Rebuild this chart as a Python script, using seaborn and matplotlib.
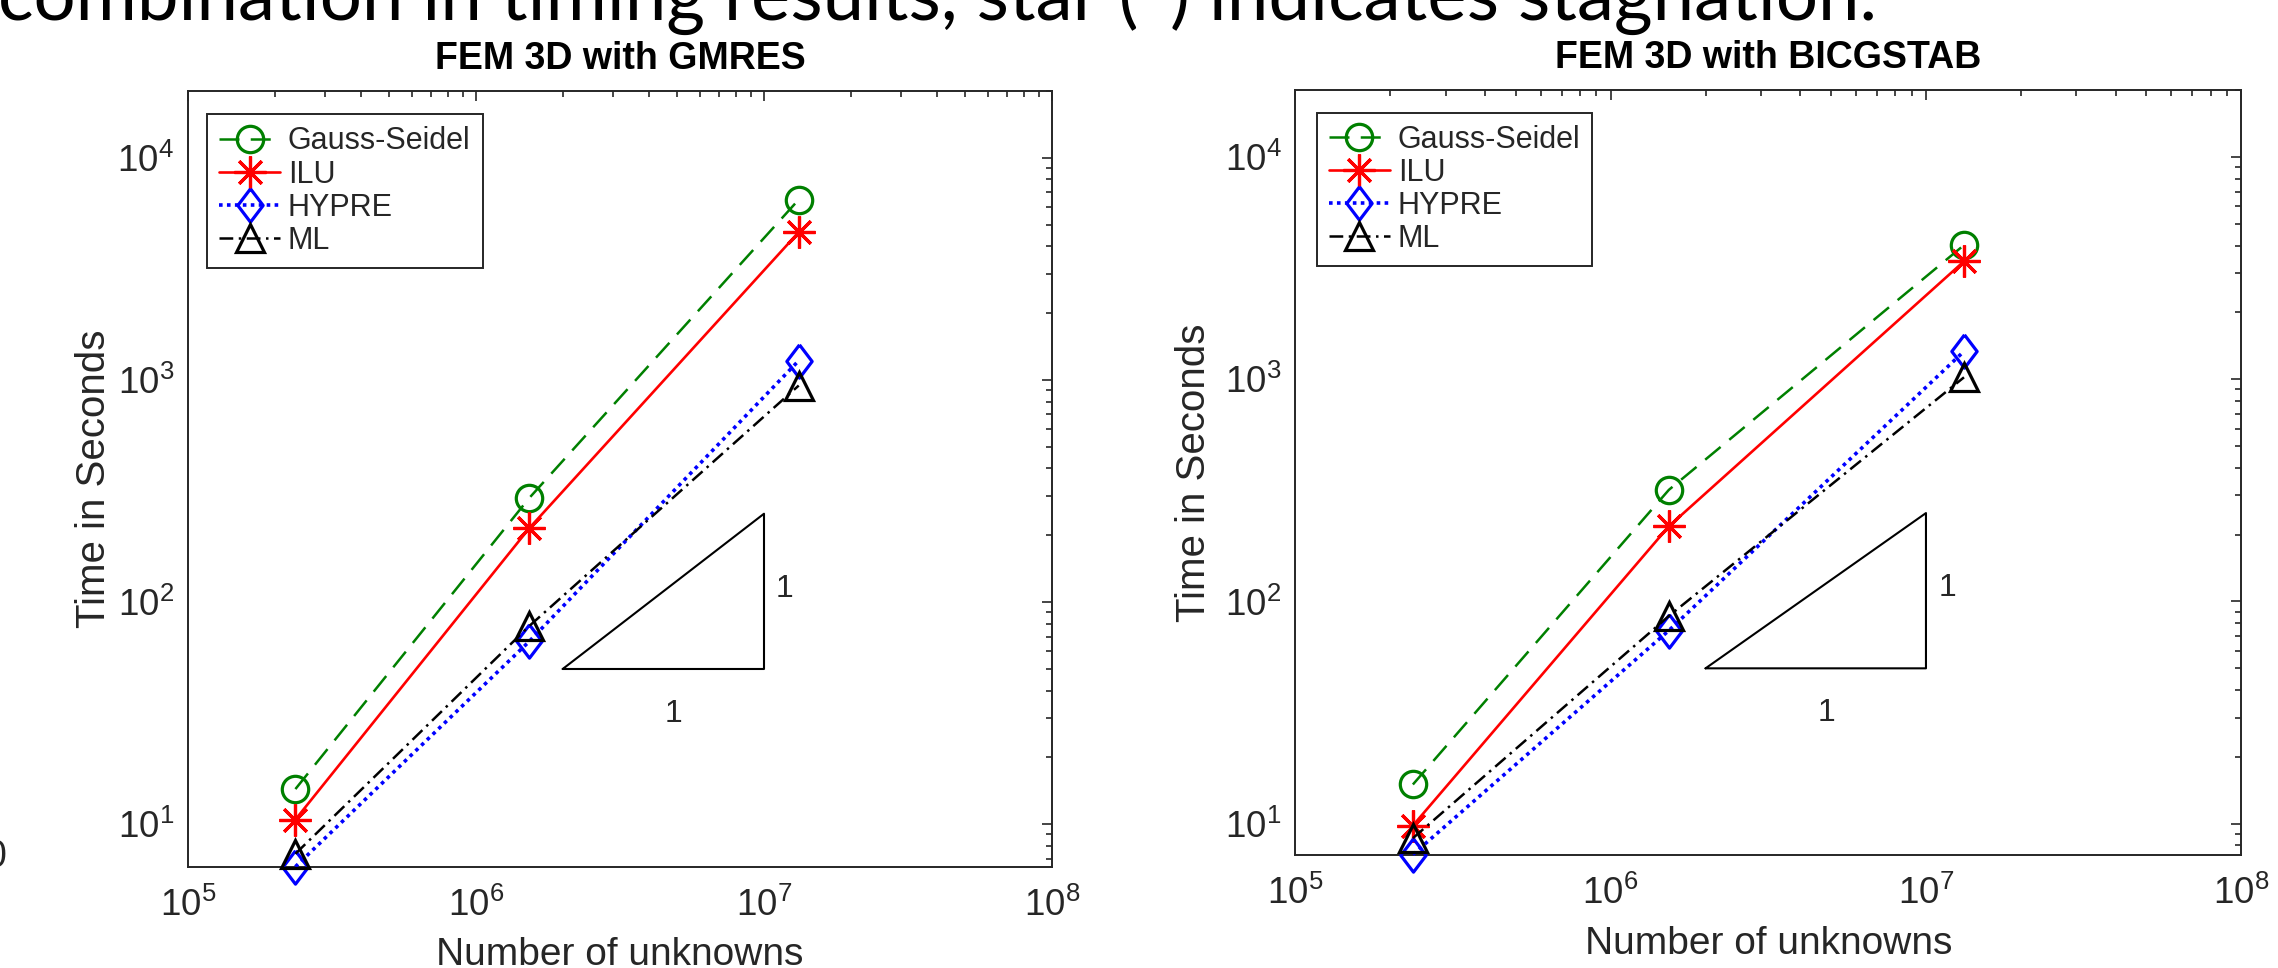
import matplotlib
matplotlib.use("Agg")
import matplotlib.pyplot as plt
from matplotlib import font_manager
from matplotlib.ticker import LogLocator, LogFormatterSciNotation, NullFormatter
import numpy as np
import pandas as pd
import seaborn as sns

# ---- data -------------------------------------------------------------
unknowns = [2.36e5, 1.53e6, 1.32e7]
methods = ["Gauss-Seidel", "ILU", "HYPRE", "ML"]

gmres_gauss_seidel = [14.4, 294, 6490]
gmres_ilu = [10.5, 215, 4630]
gmres_hypre = [6.44, 66.5, 1222]
gmres_ml = [7.36, 78, 944]

bicgstab_gauss_seidel = [15.0, 318, 4020]
bicgstab_ilu = [9.8, 218, 3398]
bicgstab_hypre = [7.26, 74, 1337]
bicgstab_ml = [8.6, 86, 1021]

# slope-1 reference triangle and its leg labels
slope_x = [2e6, 1e7, 1e7, 2e6]
slope_y = [50, 50, 250, 50]
slope_labels = ["1", "1"]

titles = ["FEM 3D with GMRES", "FEM 3D with BICGSTAB"]
x_label = "Number of unknowns"
y_label = "Time in Seconds"
x_limits = [1e5, 1e8]
y_top = 2.0e4
caption = "combination in timing results, star (*) indicates stagnation."

# ---- styling ----------------------------------------------------------
sns.set_style("white")
available = {f.name for f in font_manager.fontManager.ttflist}
main_font = "Liberation Sans" if "Liberation Sans" in available else "DejaVu Sans"
slide_font = "Lato" if "Lato" in available else main_font
plt.rcParams["font.family"] = [main_font, "DejaVu Sans"]
plt.rcParams["mathtext.default"] = "regular"

axis_gray = "#262626"
diamond = [(0, 1), (0.76, 0), (0, -1), (-0.76, 0), (0, 1)]
series_style = {
    "Gauss-Seidel": dict(color="#008000", marker="o", ms=19, ls=(0, (8, 4.5)), lw=1.8),
    "ILU": dict(color="#ff0000", marker=(8, 2, 0), ms=23, ls="-", lw=1.9),
    "HYPRE": dict(color="#0000ff", marker=diamond, ms=24, ls=(0, (1, 1.2)), lw=2.6),
    "ML": dict(color="#000000", marker="^", ms=20, ls=(0, (5.5, 2.2, 1, 2.2)), lw=1.8),
}

panels = [
    dict(values=[gmres_gauss_seidel, gmres_ilu, gmres_hypre, gmres_ml],
         rect=[188 / 2278, 1 - 866.7 / 968, 864 / 2278, 775.7 / 968],
         legend_anchor=(0.022, 0.970), ylabel_x=-0.087, xlabel_y=-0.090),
    dict(values=[bicgstab_gauss_seidel, bicgstab_ilu, bicgstab_hypre, bicgstab_ml],
         rect=[1295.3 / 2278, 1 - 854.5 / 968, 946 / 2278, 764.2 / 968],
         legend_anchor=(0.0226, 0.9707), ylabel_x=-0.087, xlabel_y=-0.093),
]

fig = plt.figure(figsize=(22.78, 9.68), dpi=100, facecolor="white")

for title, panel in zip(titles, panels):
    ax = fig.add_axes(panel["rect"])
    ax.set_xscale("log")
    ax.set_yscale("log")

    for name, vals in zip(methods, panel["values"]):
        st = series_style[name]
        df = pd.DataFrame({"unknowns": unknowns, "seconds": vals})
        sns.lineplot(data=df, x="unknowns", y="seconds", ax=ax, label=name,
                     color=st["color"], linestyle=st["ls"], linewidth=st["lw"],
                     marker=st["marker"], markersize=st["ms"],
                     markerfacecolor="none", markeredgecolor=st["color"],
                     markeredgewidth=2.3, clip_on=False, zorder=3)

    tri = pd.DataFrame({"x": slope_x, "y": slope_y})
    sns.lineplot(data=tri, x="x", y="y", ax=ax, sort=False, estimator=None,
                 color="black", linewidth=1.5, zorder=2)
    ax.text(1.1e7, 115, slope_labels[0], fontsize=23, ha="left", va="center")
    ax.text(4.85e6, 31.5, slope_labels[1], fontsize=23, ha="center", va="center")

    all_vals = np.concatenate(panel["values"])
    ax.set_xlim(*x_limits)
    ax.set_ylim(all_vals.min(), y_top)

    for axis in (ax.xaxis, ax.yaxis):
        axis.set_major_locator(LogLocator(base=10, numticks=12))
        axis.set_major_formatter(LogFormatterSciNotation())
        axis.set_minor_locator(LogLocator(base=10, subs=np.arange(2, 10), numticks=12))
        axis.set_minor_formatter(NullFormatter())

    ax.tick_params(which="both", direction="in", top=True, right=True,
                   color=axis_gray, labelcolor=axis_gray, labelsize=26.5, width=1.2)
    ax.tick_params(which="major", length=7.2)
    ax.tick_params(which="minor", length=4)
    ax.tick_params(axis="x", which="major", pad=15)
    ax.tick_params(axis="y", which="major", pad=10)
    for sp in ax.spines.values():
        sp.set_color(axis_gray)
        sp.set_linewidth(1.4)
        sp.set_visible(True)

    ax.set_title(title, fontsize=27, fontweight="bold", pad=16, color="black")
    ax.set_xlabel(x_label, fontsize=28, color=axis_gray)
    ax.set_ylabel(y_label, fontsize=29, color=axis_gray)
    ax.xaxis.set_label_coords(0.5, panel["xlabel_y"])
    ax.yaxis.set_label_coords(panel["ylabel_x"], 0.5)
    ax.xaxis.label.set_va("top")

    leg = ax.legend(loc="upper left", bbox_to_anchor=panel["legend_anchor"],
                    borderaxespad=0, frameon=True, fancybox=False, framealpha=1,
                    edgecolor=axis_gray, fontsize=22, handlelength=2.0,
                    handletextpad=0.25, labelspacing=0.1, borderpad=0.4,
                    numpoints=1)
    leg.get_frame().set_linewidth(1.4)
    leg.set_zorder(5)

# slide text around the figure, clipped by the figure edges
cap = fig.text(-2 / 2278, 1 - 20 / 968, caption, fontsize=40, family=slide_font,
               ha="left", va="baseline", color="black")
fig.canvas.draw()
bb = cap.get_window_extent(fig.canvas.get_renderer())
cap.set_fontsize(40 * 1877 / bb.width)

fig.text(6 / 2278, 1 - 857 / 968, "0", fontsize=27, ha="right", va="center",
         color=axis_gray)

fig.savefig("out.png", dpi=100, facecolor="white")
